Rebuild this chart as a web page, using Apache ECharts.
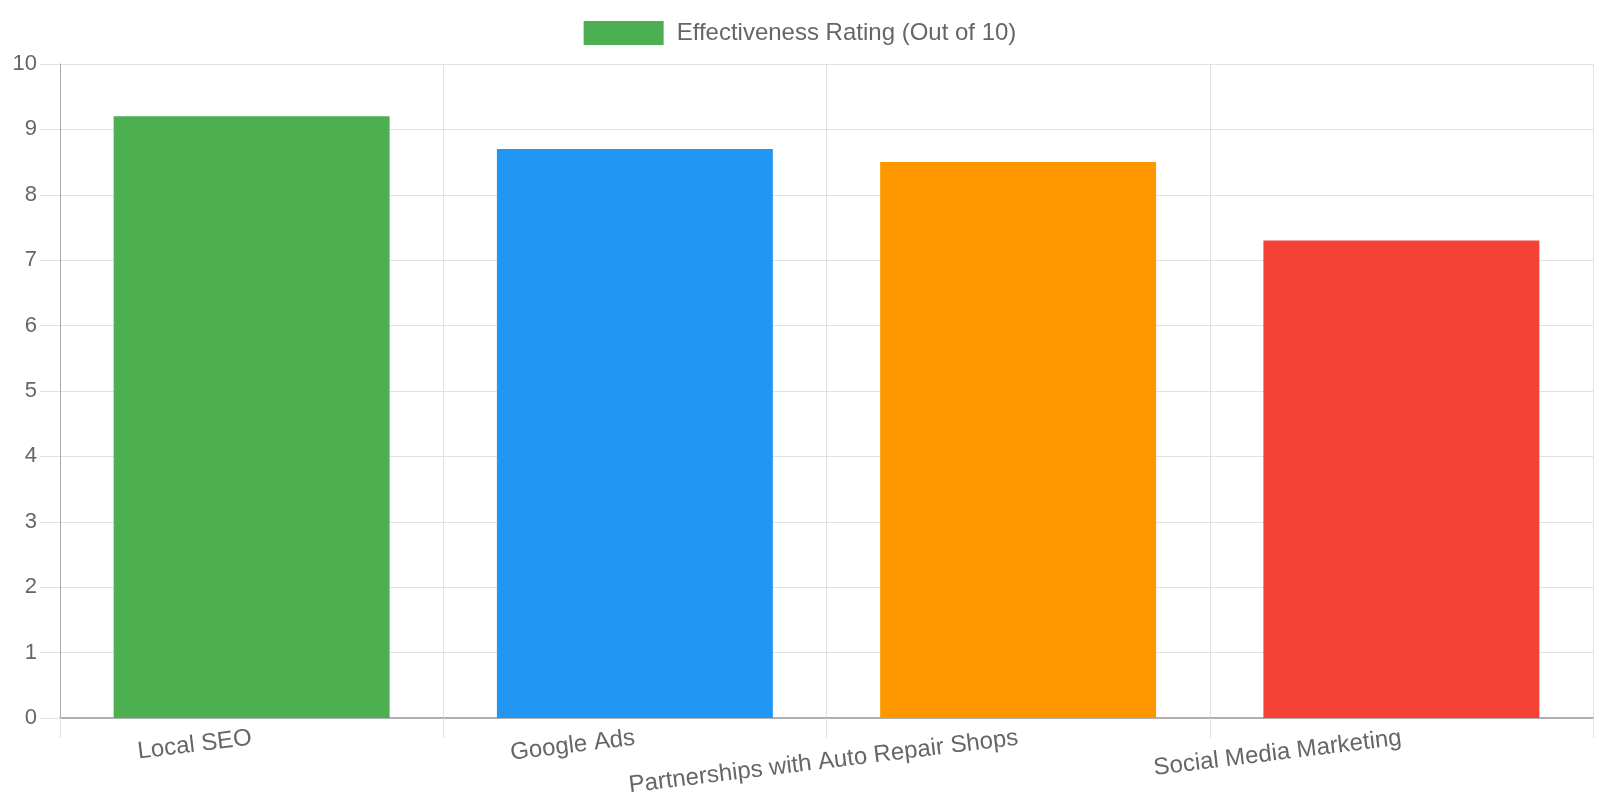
<!DOCTYPE html>
<html>
<head>
<meta charset="utf-8">
<script src="https://cdn.jsdelivr.net/npm/echarts@6/dist/echarts.min.js"></script>
<style>
  html, body { margin: 0; padding: 0; background: #fff; }
  #chart { width: 1600px; height: 800px; }
</style>
</head>
<body>
<div id="chart"></div>
<script>
const categories = ["Local SEO", "Google Ads", "Partnerships with Auto Repair Shops", "Social Media Marketing"];
const ratings = [9.2, 8.7, 8.5, 7.3];
const barColors = ["#4CAF50", "#2196F3", "#FF9800", "#F44336"];
const seriesName = "Effectiveness Rating (Out of 10)";
const yTicks = { min: 0, max: 10, interval: 1 };

const font = "'Liberation Sans', Arial, Helvetica, sans-serif";
const gridColor = "#e2e2e2";

const chart = echarts.init(document.getElementById('chart'));
chart.setOption({
  animation: false,
  textStyle: { fontFamily: font },
  legend: {
    top: 16,
    left: 'center',
    icon: 'rect',
    itemWidth: 80,
    itemHeight: 24,
    textStyle: { fontSize: 24, color: '#666', fontFamily: font, padding: [0, 0, 0, 8] },
    data: [seriesName]
  },
  grid: { left: 60, right: 7, top: 64, bottom: 82, containLabel: false },
  xAxis: {
    type: 'category',
    data: categories,
    boundaryGap: true,
    axisLine: { show: true, lineStyle: { color: '#b0b0b0', width: 2 } },
    axisTick: { show: true, length: 20, interval: 0, lineStyle: { color: gridColor } },
    splitLine: { show: true, interval: 0, lineStyle: { color: gridColor, width: 1 } },
    axisLabel: {
      interval: 0,
      rotate: 7,
      margin: 20,
      fontSize: 24,
      color: '#666',
      fontFamily: font
    }
  },
  yAxis: {
    type: 'value',
    min: yTicks.min,
    max: yTicks.max,
    interval: yTicks.interval,
    axisLine: { show: true, lineStyle: { color: '#aaaaaa', width: 1 } },
    axisTick: { show: true, length: 20, lineStyle: { color: gridColor } },
    splitLine: { show: true, lineStyle: { color: gridColor, width: 1 } },
    axisLabel: { margin: 23, fontSize: 22, color: '#666', fontFamily: font }
  },
  series: [{
    name: seriesName,
    type: 'bar',
    barWidth: '72%',
    itemStyle: { color: barColors[0] },
    data: ratings.map((v, i) => ({ value: v, itemStyle: { color: barColors[i] } }))
  }]
});
</script>
</body>
</html>
